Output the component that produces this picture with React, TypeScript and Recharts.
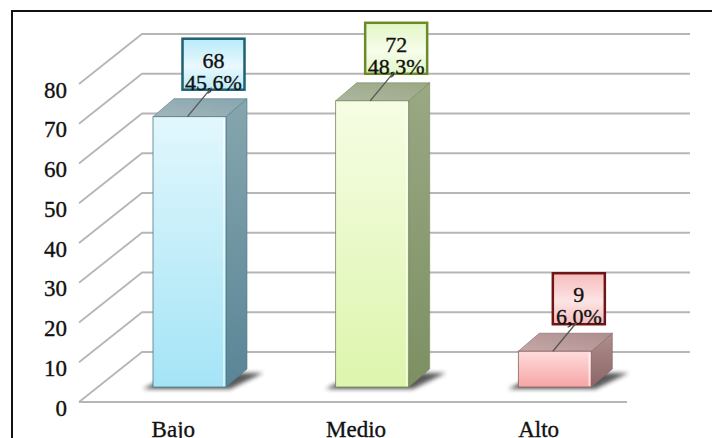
import React from 'react';
import { BarChart, Bar, XAxis, YAxis, CartesianGrid, LabelList } from 'recharts';

// Values per level
const categories = ['Bajo', 'Medio', 'Alto'];
const counts = [68, 72, 9];
const percentLabels = ['45,6%', '48,3%', '6,0%'];
const yTicks = [0, 10, 20, 30, 40, 50, 60, 70, 80];

// Colour sets per bar: front face (top/bottom), side face, top face, label box
const palettes = [
  { frontTop: '#e2f7fd', frontBottom: '#a4e4f6', sideTop: '#86a6ae', sideBottom: '#5a8596', top: '#a3b5ba', edge: '#4f7a88', boxTop: '#b9ebf8', boxBottom: '#e9f9fd', boxStroke: '#1d6172' },
  { frontTop: '#f6fde4', frontBottom: '#ddf5ad', sideTop: '#9aa884', sideBottom: '#7c9063', top: '#aeb6a0', edge: '#74875a', boxTop: '#e3f6c6', boxBottom: '#f6fdea', boxStroke: '#6b8a2a' },
  { frontTop: '#ffdcdc', frontBottom: '#f6a5a5', sideTop: '#ae8e8e', sideBottom: '#8d6666', top: '#c6a8a8', edge: '#8a6262', boxTop: '#f6bcbc', boxBottom: '#fde4e4', boxStroke: '#6e1515' },
];

const data = categories.map((name, i) => ({ name, count: counts[i], pct: percentLabels[i] }));

const FONT = '"Liberation Serif", "DejaVu Serif", serif';
const INK = '#111';
const GRID = '#b6b6b6';

// Oblique projection of the chart box: bar plane -> front edge / back wall
const FRONT_DX = -19;
const FRONT_DY = 15;
const BACK_DX = 44;
const BACK_DY = -35;
// Bar depth
const DEPTH_X = 21;
const DEPTH_Y = 18;

const GridLine = (props: any) => {
  const { x1, x2, y1, y, height } = props;
  const isFloor = typeof y === 'number' && typeof height === 'number' && Math.abs(y1 - (y + height)) < 1;
  return (
    <g>
      <path
        d={`M${x1 + FRONT_DX},${y1 + FRONT_DY} L${x1 + BACK_DX},${y1 + BACK_DY} L${x2 + BACK_DX},${y1 + BACK_DY}`}
        fill="none"
        stroke={GRID}
        strokeWidth={1.8}
      />
      {isFloor && (
        <line
          x1={x1 + FRONT_DX}
          y1={y1 + FRONT_DY}
          x2={x2 + FRONT_DX}
          y2={y1 + FRONT_DY}
          stroke={GRID}
          strokeWidth={1.8}
        />
      )}
    </g>
  );
};

const Bar3D = (props: any) => {
  const { x, y, width, height, index } = props;
  const p = palettes[index % palettes.length];
  const base = y + height;
  const r = x + width;
  const fid = `front-${index}`;
  const sid = `side-${index}`;
  const tid = `top-${index}`;
  const shid = `shadow-${index}`;
  return (
    <g>
      <defs>
        <linearGradient id={fid} x1="0" y1="0" x2="0" y2="1">
          <stop offset="0%" stopColor={p.frontTop} />
          <stop offset="100%" stopColor={p.frontBottom} />
        </linearGradient>
        <linearGradient id={sid} x1="0" y1="0" x2="0" y2="1">
          <stop offset="0%" stopColor={p.sideTop} />
          <stop offset="100%" stopColor={p.sideBottom} />
        </linearGradient>
        <linearGradient id={tid} x1="0" y1="1" x2="1" y2="0">
          <stop offset="0%" stopColor={p.top} />
          <stop offset="100%" stopColor={p.sideTop} />
        </linearGradient>
        <filter id={shid} x="-20%" y="-50%" width="140%" height="200%">
          <feGaussianBlur stdDeviation="2.2" />
        </filter>
      </defs>
      {/* soft contact shadow on the floor */}
      <polygon
        points={`${x - 10},${base + 2} ${r + 4},${base + 2} ${r + DEPTH_X + 16},${base - DEPTH_Y + 4} ${x + DEPTH_X},${base - DEPTH_Y + 4}`}
        fill="#222"
        opacity={0.75}
        filter={`url(#${shid})`}
      />
      {/* side face */}
      <polygon
        points={`${r},${y} ${r + DEPTH_X},${y - DEPTH_Y} ${r + DEPTH_X},${base - DEPTH_Y} ${r},${base}`}
        fill={`url(#${sid})`}
        stroke={p.edge}
        strokeWidth={0.6}
      />
      {/* top face */}
      <polygon
        points={`${x},${y} ${x + DEPTH_X},${y - DEPTH_Y} ${r + DEPTH_X},${y - DEPTH_Y} ${r},${y}`}
        fill={`url(#${tid})`}
        stroke={p.edge}
        strokeWidth={0.6}
        strokeLinejoin="round"
      />
      {/* front face */}
      <rect x={x} y={y} width={width} height={height} fill={`url(#${fid})`} stroke={p.edge} strokeWidth={0.8} />
      <line x1={r - 2} y1={y + 2} x2={r - 2} y2={base - 1} stroke="#ffffff" strokeOpacity={0.7} strokeWidth={1.5} />
    </g>
  );
};

const ValueLabel = (props: any) => {
  const { x, y, width, value } = props;
  let index = props.index;
  if (typeof index !== 'number') index = counts.indexOf(Number(value));
  const p = palettes[index % palettes.length];
  const pct = percentLabels[index];
  const cx = x + width / 2;
  const boxW = pct.length * 10 + 12;
  const boxH = 51;
  const boxCx = cx + 24;
  const boxBottom = y - 27;
  const gid = `box-${index}`;
  return (
    <g>
      <defs>
        <linearGradient id={gid} x1="0" y1="0" x2="0" y2="1">
          <stop offset="0%" stopColor={p.boxTop} />
          <stop offset="55%" stopColor={p.boxBottom} />
          <stop offset="100%" stopColor={p.boxTop} />
        </linearGradient>
      </defs>
      <rect
        x={boxCx - boxW / 2}
        y={boxBottom - boxH}
        width={boxW}
        height={boxH}
        fill={`url(#${gid})`}
        stroke={p.boxStroke}
        strokeWidth={2.5}
      />
      <text x={boxCx} y={boxBottom - 22} textAnchor="middle" fontFamily={FONT} fontSize={22} fill={INK} stroke={INK} strokeWidth={0.35}>
        {value}
      </text>
      <text x={boxCx} y={boxBottom} textAnchor="middle" fontFamily={FONT} fontSize={22} fill={INK} stroke={INK} strokeWidth={0.35}>
        {pct}
      </text>
      <line x1={cx - 2} y1={y} x2={boxCx - 2} y2={boxBottom - 2} stroke="#555" strokeWidth={1.3} />
    </g>
  );
};

const YTick = (props: any) => {
  const { x, y, payload } = props;
  return (
    <text
      x={x - 31}
      y={y + 21}
      textAnchor="end"
      dominantBaseline="central"
      fontFamily={FONT}
      fontSize={23}
      fill={INK}
      stroke={INK}
      strokeWidth={0.35}
    >
      {payload.value}
    </text>
  );
};

const XTick = (props: any) => {
  const { x, y, payload } = props;
  return (
    <text x={x - 16} y={y + 50} textAnchor="middle" fontFamily={FONT} fontSize={23} fill={INK} stroke={INK} strokeWidth={0.35}>
      {payload.value}
    </text>
  );
};

export default function App() {
  return (
    <div style={{ position: 'absolute', left: 0, top: 0, width: 712, height: 438, overflow: 'hidden', background: '#fff' }}>
      <div
        style={{
          position: 'absolute',
          left: 11,
          top: 10,
          width: 720,
          height: 440,
          border: '2.5px solid #111',
          boxSizing: 'border-box',
        }}
      />
      <div style={{ position: 'absolute', left: 0, top: 0 }}>
        <BarChart width={712} height={438} data={data} margin={{ top: 69, right: 66, bottom: 0, left: 0 }} barSize={73}>
          <CartesianGrid vertical={false} horizontal={(p: any) => <GridLine key={p.key ?? p.index} {...p} />} />
          <XAxis dataKey="name" axisLine={false} tickLine={false} tickSize={0} tickMargin={0} height={51} tick={<XTick />} interval={0} />
          <YAxis
            domain={[0, 80]}
            ticks={yTicks}
            axisLine={false}
            tickLine={false}
            tickSize={0}
            tickMargin={0}
            width={98}
            tick={<YTick />}
            interval={0}
          />
          <Bar dataKey="count" shape={<Bar3D />} isAnimationActive={false}>
            <LabelList dataKey="count" content={<ValueLabel />} />
          </Bar>
        </BarChart>
      </div>
    </div>
  );
}
